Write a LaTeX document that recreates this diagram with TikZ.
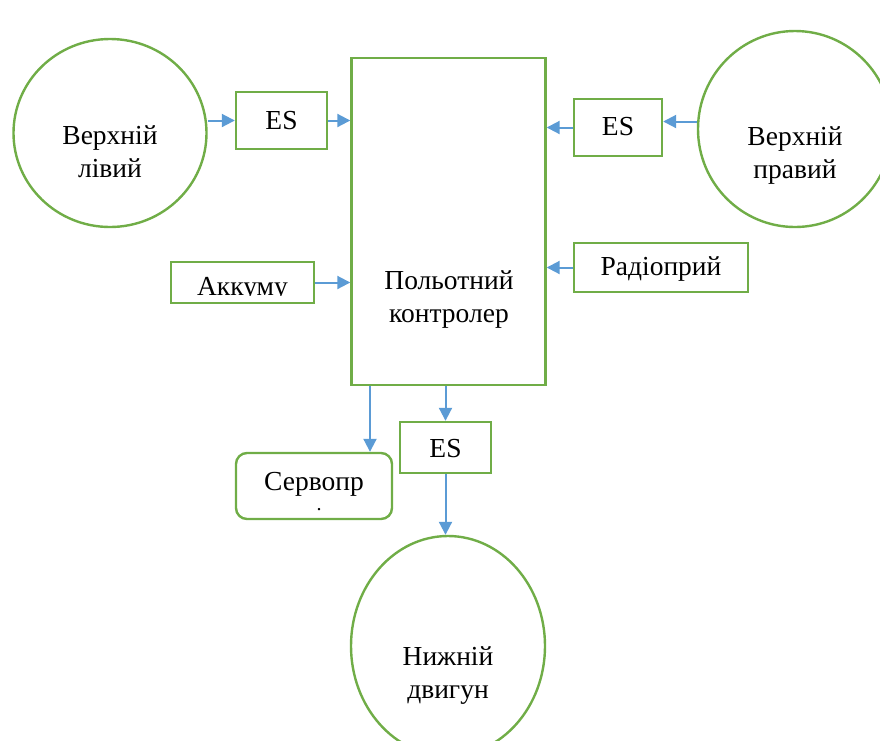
\documentclass[tikz,border=0pt]{standalone}
\usepackage{fontspec}
\setmainfont{Liberation Serif}
\usetikzlibrary{shapes.geometric,arrows.meta,calc}
\definecolor{grn}{HTML}{70AD47}
\definecolor{blu}{HTML}{5B9BD5}
\tikzset{
  box/.style={draw=grn,line width=2.4pt,rectangle,inner sep=0pt},
  oval/.style={draw=grn,line width=2.4pt,ellipse,inner sep=0pt},
  txt/.style={font=\fontsize{27.5}{33}\selectfont,align=center,inner sep=0pt},
  arr/.style={draw=blu,line width=2pt,-{Triangle[length=13pt,width=13pt]}}
}
\begin{document}
\begin{tikzpicture}[x=1pt,y=-1pt]
\useasboundingbox (0,0) rectangle (880,740);
% ellipses
\node[oval,minimum width=193pt,minimum height=188pt] (ll) at (110,133) {};
\node[txt] (llt) at (110,152) {Верхній\\лівий};
\node[oval,minimum width=194pt,minimum height=196pt] (rr) at (795,129) {};
\node[txt] (rrt) at (795,156) {Верхній\\правий};
\node[oval,minimum width=194pt,minimum height=220pt] (bb) at (448,646) {};
\node[txt] (bbt) at (448,676) {Нижній\\двигун};
% boxes
\node[box,minimum width=194pt,minimum height=327pt] (ctrl) at (448.5,221.5) {};
\node[txt] (ctrlt) at (449,300) {Польотний\\контролер};
\node[box,minimum width=91pt,minimum height=57pt] (esl) at (281.5,120.5) {};
\node[txt] (eslt) at (281.5,121) {ES};
\node[box,minimum width=88pt,minimum height=57pt] (esr) at (618,127.5) {};
\node[txt] (esrt) at (618,127) {ES};
\node[box,minimum width=91pt,minimum height=51pt] (esb) at (445.5,447.5) {};
\node[txt] (esbt) at (445.5,449) {ES};
\node[box,minimum width=174pt,minimum height=49pt] (radio) at (661,267.5) {};
\node[txt] (radiot) at (661,269) {Радіоприй};
\node[box,minimum width=143pt,minimum height=41pt] (akk) at (242.5,282.5) {};
\begin{scope}
\clip (173,264) rectangle (312,295.5);
\node[txt,anchor=base] (akkt) at (242.5,295) {Аккуму};
\end{scope}
\node[box,rounded corners=11pt,minimum width=156pt,minimum height=66pt] (servo) at (314,486) {};
\node[txt,anchor=base] (servot) at (314,490) {Сервопр};
\node[inner sep=0pt,minimum size=0pt,font=\fontsize{20}{20}\selectfont,anchor=base] (servod) at (319,510) {.};
% connectors
\draw[arr] (ll.east |- esl.west) -- (esl.west);
\draw[arr] (esl.east) -- (ctrl.west |- esl.east);
\coordinate (rin) at ($(esr.east)+(0,-6)$);
\draw[arr] (rr.west |- rin) -- (rin);
\draw[arr] (esr.west) -- (ctrl.east |- esr.west);
\draw[arr] (radio.west) -- (ctrl.east |- radio.west);
\draw[arr] (akk.east) -- (ctrl.west |- akk.east);
\coordinate (cs) at (ctrl.south -| 370,0);
\draw[arr] (cs) -- (servo.north -| cs);
\draw[arr] (ctrl.south -| esb.north) -- (esb.north);
\draw[arr] (esb.south) -- (esb.south |- bb.north);
\end{tikzpicture}
\end{document}
